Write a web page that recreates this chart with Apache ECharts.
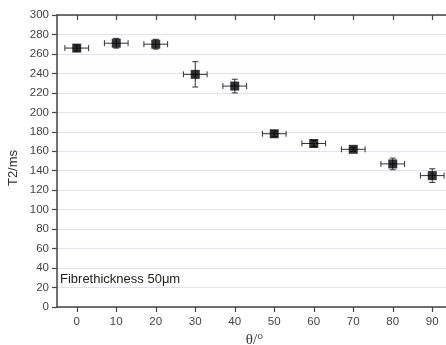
<!DOCTYPE html>
<html><head><meta charset="utf-8">
<script src="https://cdn.jsdelivr.net/npm/echarts@6/dist/echarts.min.js"></script>
<style>html,body{margin:0;padding:0;background:#fff}#c{width:446px;height:345px}</style>
</head><body><div id="c"></div>
<script>
var theta = [0, 10, 20, 30, 40, 50, 60, 70, 80, 90];
var t2 = [266, 271, 270, 239, 227, 178, 168, 162, 147, 135];
var t2Err = [3, 5, 5, 13, 7, 3, 3, 2, 6, 7];
var thetaErr = [3, 3, 3, 3, 3, 3, 3, 3, 3, 3];
var xTicks = [0, 10, 20, 30, 40, 50, 60, 70, 80, 90];

var pts = theta.map(function (x, i) { return [x, t2[i], thetaErr[i], t2Err[i]]; });
var axisColor = '#444';
var chart = echarts.init(document.getElementById('c'));
chart.setOption({
  animation: false,
  grid: { left: 57, top: 15, right: -6, bottom: 38, containLabel: false, outerBoundsMode: 'none' },
  xAxis: [{
    type: 'value', min: -5, max: 95, interval: 5,
    name: 'θ/°', nameLocation: 'middle', nameGap: 21,
    nameTextStyle: { fontFamily: 'Liberation Serif', fontSize: 15, color: '#333' },
    axisLine: { onZero: false, lineStyle: { color: axisColor, width: 1.5 } },
    axisTick: { length: 5, lineStyle: { color: axisColor, width: 1.2 },
      customValues: xTicks },
    axisLabel: { color: '#444', fontSize: 11.5, fontFamily: 'Liberation Sans', margin: 9,
      customValues: xTicks },
    splitLine: { show: false }
  }, {
    type: 'value', min: -5, max: 95, interval: 5, position: 'top',
    axisLine: { show: true, onZero: false, lineStyle: { color: axisColor, width: 1.5 } },
    axisTick: { inside: true, length: 5, lineStyle: { color: axisColor, width: 1.2 }, customValues: xTicks },
    axisLabel: { show: false }, splitLine: { show: false }
  }],
  yAxis: [{
    type: 'value', min: 0, max: 300, interval: 20,
    axisLine: { show: true, onZero: false, lineStyle: { color: axisColor, width: 1.5 } },
    axisTick: { show: true, length: 5, lineStyle: { color: axisColor, width: 1.2 } },
    axisLabel: { color: '#444', fontSize: 11.5, fontFamily: 'Liberation Sans', margin: 8 },
    splitLine: { lineStyle: { color: '#dfe2f2', width: 1 } }
  }, {
    type: 'value', min: 0, max: 300, interval: 20, position: 'right',
    axisLine: { show: true, onZero: false, lineStyle: { color: axisColor, width: 1.5 } },
    axisTick: { show: true, inside: true, length: 5, lineStyle: { color: axisColor, width: 1.2 } },
    axisLabel: { show: false }, splitLine: { show: false }
  }],
  series: [{
    type: 'custom',
    data: pts,
    renderItem: function (params, api) {
      var x = api.value(0), y = api.value(1), ex = api.value(2), ey = api.value(3);
      var c = api.coord([x, y]);
      var l = api.coord([x - ex, y]), r = api.coord([x + ex, y]);
      var t = api.coord([x, y + ey]), b = api.coord([x, y - ey]);
      var cap = 3;
      var st = { stroke: '#333', lineWidth: 1 };
      var lines = [
        [l[0], c[1], r[0], c[1]],
        [l[0], c[1] - cap, l[0], c[1] + cap],
        [r[0], c[1] - cap, r[0], c[1] + cap],
        [c[0], t[1], c[0], b[1]],
        [c[0] - cap, t[1], c[0] + cap, t[1]],
        [c[0] - cap, b[1], c[0] + cap, b[1]]
      ];
      return { type: 'group', children: lines.map(function (p) {
        return { type: 'line', shape: { x1: p[0], y1: p[1], x2: p[2], y2: p[3] }, style: st };
      }) };
    },
    z: 2
  }, {
    type: 'scatter',
    data: pts.map(function (p) { return [p[0], p[1]]; }),
    symbol: 'rect', symbolSize: 9,
    itemStyle: { color: '#000' },
    z: 3
  }],
  graphic: [{
    type: 'text', left: 60, top: 273,
    style: { text: 'Fibrethickness 50μm', fontSize: 13, fontFamily: 'Liberation Sans', fill: '#222' }
  }, {
    type: 'text', x: 13, y: 168, rotation: Math.PI / 2,
    style: { text: 'T2/ms', fontSize: 13, fontFamily: 'Liberation Sans', fill: '#333',
      align: 'center', verticalAlign: 'middle' }
  }]
});
</script></body></html>
